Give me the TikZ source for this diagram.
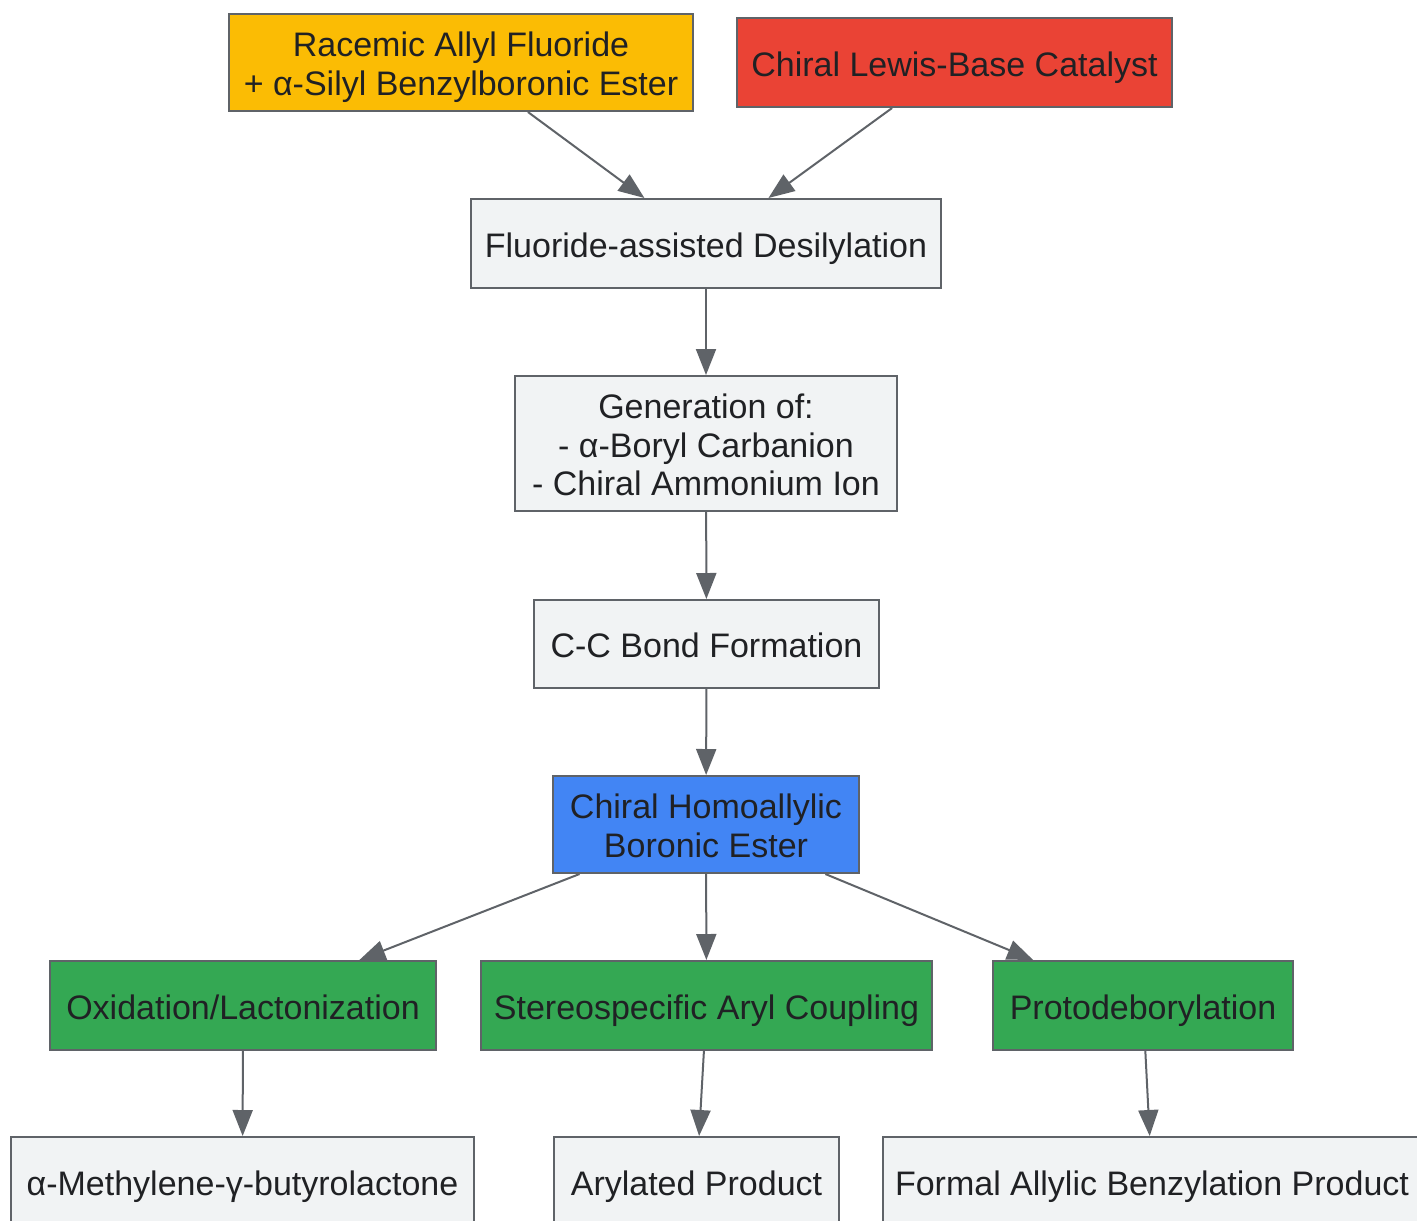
\documentclass[tikz,border=0pt]{standalone}
\usepackage{fontspec}
\setmainfont{Liberation Sans}
\usetikzlibrary{arrows.meta}
\definecolor{edgegray}{HTML}{5F6368}
\definecolor{txtgray}{HTML}{202124}
\definecolor{stepfill}{HTML}{F1F3F4}
\definecolor{startfill}{HTML}{FBBC04}
\definecolor{catfill}{HTML}{EA4335}
\definecolor{prodfill}{HTML}{4285F4}
\definecolor{usefill}{HTML}{34A853}
\tikzset{
  box/.style={draw=edgegray, line width=2pt, fill=stepfill, text=txtgray, align=center,
    inner sep=0pt, text height=31pt, text depth=4pt, font=\fontsize{34}{38.5}\selectfont},
  twolines/.style={text height=69.5pt},
  threelines/.style={text height=108pt},
  flow/.style={draw=edgegray, line width=2pt, -{Triangle[length=26pt,width=20pt]}}
}
\begin{document}
\begin{tikzpicture}[x=1pt,y=-1pt]
				\useasboundingbox (0,0) rectangle (1417,1221);
				\node[box, twolines, fill=startfill, minimum width=464, minimum height=97] (racemic) at (461,62.5) {Racemic Allyl Fluoride\\+ α-Silyl Benzylboronic Ester};
				\node[box, fill=catfill, minimum width=435, minimum height=89] (catalyst) at (954.5,62.5) {Chiral Lewis-Base Catalyst};
				%--
				\node[box, minimum width=470, minimum height=89] (desil) at (706,243.5) {Fluoride-assisted Desilylation};
				\node[box, threelines, minimum width=382, minimum height=135] (gen) at (706,443.5) {Generation of:\\- α-Boryl Carbanion\\- Chiral Ammonium Ion};
				\node[box, minimum width=345, minimum height=88] (ccbond) at (706.5,644) {C-C Bond Formation};
				\node[box, twolines, fill=prodfill, minimum width=306, minimum height=97] (homoallyl) at (706,824.5) {Chiral Homoallylic\\Boronic Ester};
				%--
				\node[box, fill=usefill, minimum width=386, minimum height=89] (oxid) at (243,1005.5) {Oxidation/Lactonization};
				\node[box, fill=usefill, minimum width=451, minimum height=89] (coupling) at (706.5,1005.5) {Stereospecific Aryl Coupling};
				\node[box, fill=usefill, minimum width=300, minimum height=89] (proto) at (1143,1005.5) {Protodeborylation};
				%--
				\node[box, minimum width=463, minimum height=89] (lactone) at (242.5,1181.5) {α-Methylene-γ-butyrolactone};
				\node[box, minimum width=285, minimum height=89] (arylated) at (696.5,1181.5) {Arylated Product};
				\node[box, minimum width=538, minimum height=89] (benzyl) at (1152,1181.5) {Formal Allylic Benzylation Product};
				%--
				\draw[flow] (racemic) -- (desil);
				\draw[flow] (catalyst) -- (desil);
				\draw[flow] (desil) -- (gen);
				\draw[flow] (gen) -- (ccbond);
				\draw[flow] (ccbond) -- (homoallyl);
				\draw[flow] (homoallyl) -- (oxid);
				\draw[flow] (homoallyl) -- (coupling);
				\draw[flow] (homoallyl) -- (proto);
				\draw[flow] (oxid) -- (lactone);
				\draw[flow] (coupling) -- (arylated);
				\draw[flow] (proto) -- (benzyl);
			\end{tikzpicture}
\end{document}
